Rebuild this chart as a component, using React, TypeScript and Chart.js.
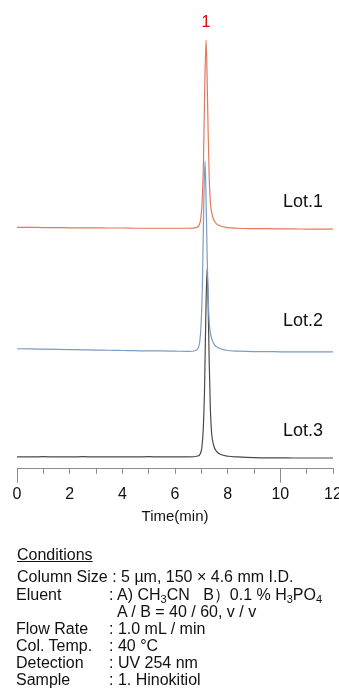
import React, { useEffect, useRef } from "react";
import { Chart, registerables } from "chart.js";

Chart.register(...registerables);

const lotNames = ["Lot.1", "Lot.2", "Lot.3"];
const lotColors = ["#e4785f", "#7b9cc4", "#4a4a4a"];
const lotOffsets = [52, 25, 0];

const lot1Time = [0, 0.5, 1, 1.5, 2, 2.5, 3, 3.5, 4, 4.5, 5, 5.5, 6, 6.5, 6.83, 6.93, 6.98, 7.03, 7.08, 7.13, 7.18, 7.22, 7.26, 7.3, 7.35, 7.43, 7.53, 7.68, 7.98, 8.4, 9, 9.5, 10, 10.5, 11, 11.5, 12];
const lot1Signal = [2.9, 2.9, 2.85, 2.85, 2.8, 2.8, 2.8, 2.75, 2.75, 2.7, 2.7, 2.7, 2.7, 2.7, 2.9, 3.6, 4.9, 8.7, 17.6, 34.8, 45.5, 36.8, 24.1, 14.2, 8.2, 5.3, 4.0, 3.3, 2.85, 2.7, 2.6, 2.6, 2.55, 2.55, 2.5, 2.5, 2.5];

const lot2Time = [0, 0.5, 1, 1.5, 2, 2.5, 3, 3.5, 4, 4.5, 5, 5.5, 6, 6.5, 6.79, 6.89, 6.94, 6.99, 7.04, 7.09, 7.14, 7.18, 7.22, 7.26, 7.31, 7.39, 7.49, 7.64, 7.94, 8.4, 9, 9.5, 10, 10.5, 11, 11.5, 12];
const lot2Signal = [2.3, 2.25, 2.2, 2.15, 2.1, 2.05, 2.0, 1.95, 1.9, 1.85, 1.8, 1.8, 1.75, 1.7, 1.9, 2.6, 3.9, 7.7, 16.7, 34.3, 45.0, 36.3, 23.6, 13.7, 7.6, 4.7, 3.3, 2.5, 1.95, 1.75, 1.65, 1.65, 1.6, 1.6, 1.6, 1.6, 1.6];

const lot3Time = [0, 0.5, 1, 1.5, 2, 2.5, 3, 3.5, 4, 4.5, 5, 5.5, 6, 6.5, 6.87, 6.97, 7.02, 7.07, 7.12, 7.17, 7.22, 7.26, 7.3, 7.34, 7.39, 7.47, 7.57, 7.72, 8.02, 8.4, 9, 9.5, 10, 10.5, 11, 11.5, 12];
const lot3Signal = [2.7, 2.7, 2.75, 2.7, 2.7, 2.75, 2.7, 2.7, 2.7, 2.7, 2.75, 2.7, 2.7, 2.7, 2.9, 3.55, 4.85, 8.7, 17.6, 34.8, 45.5, 36.8, 24.1, 14.2, 8.2, 5.3, 4.0, 3.3, 2.85, 2.7, 2.55, 2.5, 2.5, 2.45, 2.45, 2.45, 2.45];

const lotTimes = [lot1Time, lot2Time, lot3Time];
const lotSignals = [lot1Signal, lot2Signal, lot3Signal];

const peakNumbers = ["1"];
const peakTimes = [7.18];

const xMin = 0;
const xMax = 12;
const labeledTicks = [0, 2, 4, 6, 8, 10, 12];
const majorTicks = [0, 10];

const FONT = '"Liberation Sans", Arial, Helvetica, sans-serif';
const axisColor = "#8c8c8c";
const labelTime = 10.1;
const labelLift = 8.6;

const annotPlugin = {
  id: "annot",
  afterDraw(chart: any) {
    const { ctx, chartArea } = chart;
    const x = chart.scales.x;
    const y = chart.scales.y;
    ctx.save();
    ctx.strokeStyle = axisColor;
    ctx.lineWidth = 1;
    majorTicks.forEach((v) => {
      const px = Math.round(x.getPixelForValue(v)) + 0.5;
      ctx.beginPath();
      ctx.moveTo(px, chartArea.bottom);
      ctx.lineTo(px, chartArea.bottom + 14);
      ctx.stroke();
    });
    ctx.font = `18px ${FONT}`;
    ctx.fillStyle = "#111";
    ctx.textBaseline = "middle";
    ctx.textAlign = "left";
    lotNames.forEach((n, i) => {
      ctx.fillText(n, x.getPixelForValue(labelTime), y.getPixelForValue(lotOffsets[i] + labelLift));
    });
    ctx.font = `16px ${FONT}`;
    ctx.fillStyle = "#e00000";
    ctx.textAlign = "center";
    peakNumbers.forEach((n, i) => {
      const top = Math.max(...lot1Signal) + lotOffsets[0];
      ctx.fillText(n, x.getPixelForValue(peakTimes[i]), y.getPixelForValue(top) - 17);
    });
    ctx.restore();
  },
};

function ChromChart() {
  const ref = useRef<HTMLCanvasElement>(null);
  useEffect(() => {
    if (!ref.current) return;
    const datasets = lotNames.map((name, i) => ({
      label: name,
      data: lotTimes[i].map((t, j) => ({ x: t, y: lotSignals[i][j] + lotOffsets[i] })),
      borderColor: lotColors[i],
      borderWidth: 1.2,
      pointRadius: 0,
      cubicInterpolationMode: "monotone" as const,
      fill: false,
    }));
    const chart = new Chart(ref.current, {
      type: "line",
      data: { datasets },
      plugins: [annotPlugin],
      options: {
        animation: false,
        responsive: false,
        layout: { padding: { top: 29, left: 17, right: 6, bottom: 0 } },
        plugins: { legend: { display: false }, tooltip: { enabled: false } },
        scales: {
          x: {
            type: "linear",
            min: xMin,
            max: xMax,
            afterFit: (s: any) => {
              s.paddingLeft = 0;
              s.paddingRight = 0;
            },
            ticks: {
              stepSize: 1,
              autoSkip: false,
              maxRotation: 0,
              padding: 11,
              color: "#111",
              font: { family: FONT, size: 16 },
              callback: (v: any) => (labeledTicks.includes(Number(v)) ? String(v) : ""),
            },
            grid: {
              drawOnChartArea: false,
              drawTicks: true,
              tickLength: 5,
              color: axisColor,
            },
            border: { display: true, color: axisColor, width: 1 },
            title: {
              display: true,
              text: "Time(min)",
              color: "#111",
              font: { family: FONT, size: 15 },
              padding: { top: -7, bottom: 4 },
            },
          },
          y: { display: false, min: 0, max: 100 },
        },
      },
    });
    return () => chart.destroy();
  }, []);
  return (
    <canvas
      ref={ref}
      width={339}
      height={530}
      style={{ position: "fixed", left: 0, top: 0, width: 339, height: 530, display: "block" }}
    />
  );
}

const rowStyle: React.CSSProperties = { position: "absolute", left: 0, whiteSpace: "nowrap", height: 17, lineHeight: "17px" };
const subStyle: React.CSSProperties = { fontSize: "11px", verticalAlign: "-3px", lineHeight: 0 };

function Row({ top, label, children }: { top: number; label: string; children: React.ReactNode }) {
  return (
    <div style={{ ...rowStyle, top }}>
      <span style={{ position: "absolute", left: 16 }}>{label}</span>
      <span style={{ position: "absolute", left: 109 }}>{children}</span>
    </div>
  );
}

export default function App() {
  return (
    <div style={{ position: "fixed", left: 0, top: 0, width: 339, height: 689, background: "#fff", fontFamily: FONT }}>
      <ChromChart />
      <div style={{ position: "absolute", left: 0, top: 0, width: 339, height: 689, fontSize: 16, color: "#111" }}>
        <div style={{ ...rowStyle, top: 546, left: 17, textDecoration: "underline" }}>Conditions</div>
        <div style={{ ...rowStyle, top: 568, left: 17 }}>Column Size : 5 µm, 150 × 4.6 mm I.D.</div>
        <Row top={586} label="Eluent">
          : A) CH<sub style={subStyle}>3</sub>CN&nbsp;&nbsp;&nbsp;B）0.1 % H<sub style={subStyle}>3</sub>PO<sub style={subStyle}>4</sub>
        </Row>
        <div style={{ ...rowStyle, top: 603, left: 117 }}>A / B = 40 / 60, v / v</div>
        <Row top={620} label="Flow Rate">: 1.0 mL / min</Row>
        <Row top={637} label="Col. Temp.">: 40 °C</Row>
        <Row top={654} label="Detection">: UV 254 nm</Row>
        <Row top={671} label="Sample">: 1. Hinokitiol</Row>
      </div>
    </div>
  );
}
